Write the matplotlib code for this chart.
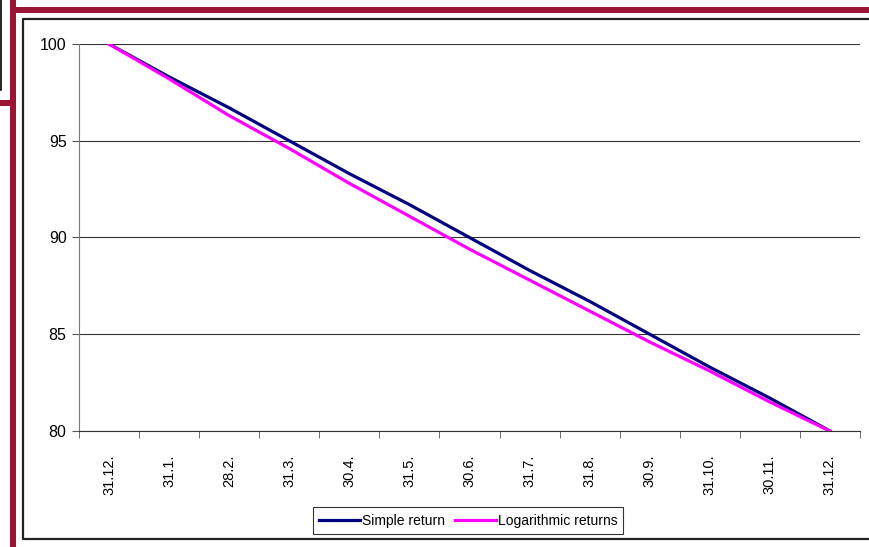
"""Simple vs. logarithmic returns over one year."""

import matplotlib.pyplot as plt
from matplotlib.lines import Line2D
from matplotlib.patches import Rectangle

dates = ["31.12.", "31.1.", "28.2.", "31.3.", "30.4.", "31.5.", "30.6.",
         "31.7.", "31.8.", "30.9.", "31.10.", "30.11.", "31.12."]
simple = [100.0, 98.3, 96.7, 95.0, 93.3, 91.7, 90.0, 88.3, 86.7, 85.0, 83.3, 81.7, 80.0]
logret = [100.0, 98.2, 96.3, 94.6, 92.8, 91.1, 89.4, 87.8, 86.2, 84.6, 83.1, 81.5, 80.0]

plt.rcParams["font.family"] = ["Liberation Sans", "DejaVu Sans"]

W, H = 870, 547
fig = plt.figure(figsize=(W / 100, H / 100), dpi=100)

# slide decoration: red frame pieces and outer chart border
red = "#9b1434"
fig.add_artist(Rectangle((10 / W, 0), 6 / W, 1, transform=fig.transFigure,
                         color=red, lw=0))
fig.add_artist(Rectangle((10 / W, 1 - 13 / H), 1 - 10 / W, 6 / H,
                         transform=fig.transFigure, color=red, lw=0))
fig.add_artist(Rectangle((0, 1 - 106 / H), 12 / W, 6 / H,
                         transform=fig.transFigure, color=red, lw=0))
fig.add_artist(Line2D([1 / W, 1 / W, 0], [1, 1 - 90 / H, 1 - 90 / H],
                      transform=fig.transFigure, color="black", lw=1.2))
fig.add_artist(Line2D([1.0, 23 / W, 23 / W, 1.0],
                      [1 - 18.5 / H, 1 - 18.5 / H, 1 - 539 / H, 1 - 539 / H],
                      transform=fig.transFigure, color="#222222", lw=1.6))

ax = fig.add_axes([79 / W, 1 - 431 / H, 781 / W, 387 / H])
x = list(range(len(dates)))
ax.plot(x, simple, color="#000080", lw=2.3, label="Simple return", zorder=3)
ax.plot(x, logret, color="#ff00ff", lw=2.3, label="Logarithmic returns", zorder=3)

ax.set_xlim(-0.5, len(dates) - 0.5)
ax.set_ylim(80, 100)
ax.set_yticks([80, 85, 90, 95, 100])
ax.set_xticks(x)
ax.set_xticklabels(dates, rotation=90, fontsize=10.5)
ax.set_xticks([i - 0.5 for i in range(len(dates) + 1)], minor=True)
ax.tick_params(axis="x", which="major", length=0, pad=17)
ax.tick_params(axis="x", which="minor", length=5, color="#555555")
ax.tick_params(axis="y", length=5, color="#555555", labelsize=11.5, pad=4)
ax.grid(axis="y", color="#333333", lw=0.8)
for side in ["top", "right"]:
    ax.spines[side].set_visible(False)
ax.spines["left"].set_color("#777777")
ax.spines["bottom"].set_color("#333333")

leg = fig.legend(loc="center", bbox_to_anchor=(468 / W, 1 - 520.5 / H), ncol=2,
                 fontsize=10, frameon=True, fancybox=False, edgecolor="black",
                 handlelength=3.0, handletextpad=0.1, columnspacing=0.7,
                 borderpad=0.45)
leg.get_frame().set_linewidth(0.8)

fig.savefig("out.png", dpi=100)
